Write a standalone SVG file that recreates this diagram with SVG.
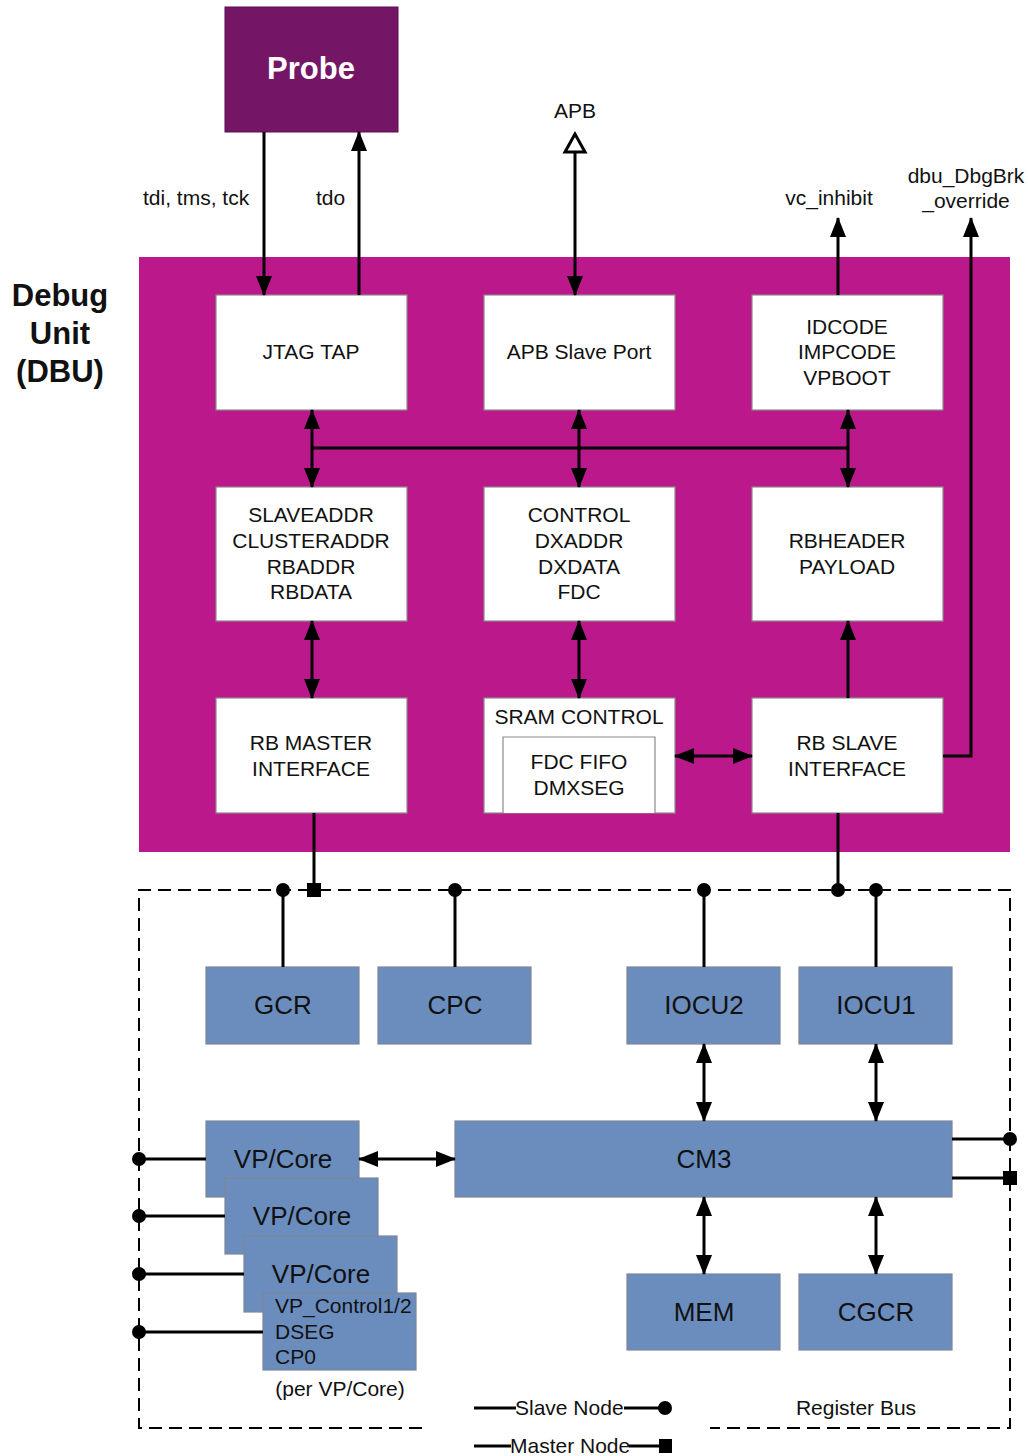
<svg xmlns="http://www.w3.org/2000/svg" width="1028" height="1456" viewBox="0 0 1028 1456">
<defs>
<marker id="ah" markerUnits="userSpaceOnUse" markerWidth="20" markerHeight="18" refX="19" refY="8" orient="auto-start-reverse" viewBox="0 0 20 16">
<path d="M0,0 L20,8 L0,16 z" fill="#000"/>
</marker>
<style>
text{font-family:"Liberation Sans",Arial,sans-serif;fill:#111}
.w{fill:#fff;stroke:#8a8a8a;stroke-width:1.2}
.b{fill:#6a8dbe;stroke:#7d8696;stroke-width:1.2}
.t{font-size:21px;text-anchor:middle}
.bt{font-size:26px;text-anchor:middle}
.l{font-size:21px}
.c{stroke:#000;stroke-width:3;fill:none}
.a{marker-end:url(#ah)}
.d{marker-start:url(#ah);marker-end:url(#ah)}
.dash{stroke:#000;stroke-width:2;fill:none;stroke-dasharray:13 7}
</style>
</defs>
<rect width="1028" height="1456" fill="#fff"/>

<g id="dbu-area">
<rect x="139" y="257" width="871" height="595" fill="#bb188c"/>
<text x="60" y="306" style="font-size:31px;font-weight:bold;text-anchor:middle">Debug</text>
<text x="60" y="344" style="font-size:31px;font-weight:bold;text-anchor:middle">Unit</text>
<text x="60" y="382" style="font-size:31px;font-weight:bold;text-anchor:middle">(DBU)</text>
</g>

<g id="probe">
<rect x="225" y="7" width="173" height="125" fill="#751566" stroke="#5a0f4f" stroke-width="1"/>
<text x="311" y="79" style="font-size:31px;font-weight:bold;text-anchor:middle;fill:#fff">Probe</text>
</g>

<g id="jtag-tap"><rect class="w" x="216" y="295" width="191" height="115"/><text class="t" x="311" y="359">JTAG TAP</text></g>
<g id="apb-slave-port"><rect class="w" x="484" y="295" width="191" height="115"/><text class="t" x="579" y="359">APB Slave Port</text></g>
<g id="idcode"><rect class="w" x="752" y="295" width="191" height="115"/><text class="t" x="847" y="334">IDCODE</text><text class="t" x="847" y="359">IMPCODE</text><text class="t" x="847" y="385">VPBOOT</text></g>

<g id="slaveaddr"><rect class="w" x="216" y="487" width="191" height="134"/><text class="t" x="311" y="522">SLAVEADDR</text><text class="t" x="311" y="548">CLUSTERADDR</text><text class="t" x="311" y="574">RBADDR</text><text class="t" x="311" y="599">RBDATA</text></g>
<g id="control"><rect class="w" x="484" y="487" width="191" height="134"/><text class="t" x="579" y="522">CONTROL</text><text class="t" x="579" y="548">DXADDR</text><text class="t" x="579" y="574">DXDATA</text><text class="t" x="579" y="599">FDC</text></g>
<g id="rbheader"><rect class="w" x="752" y="487" width="191" height="134"/><text class="t" x="847" y="548">RBHEADER</text><text class="t" x="847" y="574">PAYLOAD</text></g>

<g id="rb-master"><rect class="w" x="216" y="698" width="191" height="115"/><text class="t" x="311" y="750">RB MASTER</text><text class="t" x="311" y="776">INTERFACE</text></g>
<g id="sram-control"><rect class="w" x="484" y="698" width="191" height="115"/><text class="t" x="579" y="724">SRAM CONTROL</text>
<path d="M503,813 V737 H655 V813" fill="#fff" stroke="#8a8a8a" stroke-width="1.2"/>
<text class="t" x="579" y="769">FDC FIFO</text><text class="t" x="579" y="795">DMXSEG</text></g>
<g id="rb-slave"><rect class="w" x="752" y="698" width="191" height="115"/><text class="t" x="847" y="750">RB SLAVE</text><text class="t" x="847" y="776">INTERFACE</text></g>

<g id="gcr"><rect class="b" x="206" y="967" width="153" height="77"/><text class="bt" x="283" y="1014">GCR</text></g>
<g id="cpc"><rect class="b" x="378" y="967" width="153" height="77"/><text class="bt" x="455" y="1014">CPC</text></g>
<g id="iocu2"><rect class="b" x="627" y="967" width="153" height="77"/><text class="bt" x="704" y="1014">IOCU2</text></g>
<g id="iocu1"><rect class="b" x="799" y="967" width="153" height="77"/><text class="bt" x="876" y="1014">IOCU1</text></g>
<g id="cm3"><rect class="b" x="455" y="1121" width="497" height="76"/><text class="bt" x="704" y="1168">CM3</text></g>
<g id="mem"><rect class="b" x="627" y="1274" width="153" height="76"/><text class="bt" x="704" y="1321">MEM</text></g>
<g id="cgcr"><rect class="b" x="799" y="1274" width="153" height="76"/><text class="bt" x="876" y="1321">CGCR</text></g>

<g id="vpcore1"><rect class="b" x="206" y="1121" width="153" height="76"/><text class="bt" x="283" y="1168">VP/Core</text></g>
<g id="vpcore2"><rect class="b" x="225" y="1178" width="153" height="76"/><text class="bt" x="302" y="1225">VP/Core</text></g>
<g id="vpcore3"><rect class="b" x="244" y="1236" width="153" height="76"/><text class="bt" x="321" y="1283">VP/Core</text></g>
<g id="vp-control"><rect class="b" x="263" y="1293" width="153" height="77"/>
<text class="l" x="275" y="1313">VP_Control1/2</text><text class="l" x="275" y="1339">DSEG</text><text class="l" x="275" y="1364">CP0</text>
<text class="t" x="340" y="1396">(per VP/Core)</text></g>

<g id="connectors">
<line class="c a" x1="264" y1="132" x2="264" y2="295"/>
<line class="c a" x1="359" y1="295" x2="359" y2="132"/>
<line class="c a" x1="575" y1="153" x2="575" y2="295"/>
<polygon points="575,134 565,152 585,152" fill="#fff" stroke="#000" stroke-width="3"/>
<line class="c a" x1="838" y1="295" x2="838" y2="218"/>
<polyline class="c a" points="943,756 971,756 971,218"/>

<line class="c" x1="312" y1="448" x2="848" y2="448"/>
<line class="c d" x1="312" y1="410" x2="312" y2="487"/>
<line class="c d" x1="579" y1="410" x2="579" y2="487"/>
<line class="c d" x1="848" y1="410" x2="848" y2="487"/>

<line class="c d" x1="312" y1="621" x2="312" y2="698"/>
<line class="c d" x1="579" y1="621" x2="579" y2="698"/>
<line class="c a" x1="848" y1="698" x2="848" y2="621"/>
<line class="c d" x1="675" y1="756" x2="752" y2="756"/>

<path class="dash" d="M422,1428 H139 V890 H1010 V1428 H710"/>

<line class="c" x1="314" y1="813" x2="314" y2="890"/>
<rect x="307" y="883" width="14" height="14" fill="#000"/>
<line class="c" x1="838" y1="813" x2="838" y2="890"/>
<circle cx="838" cy="890" r="7" fill="#000"/>

<line class="c" x1="283" y1="890" x2="283" y2="967"/><circle cx="283" cy="890" r="7" fill="#000"/>
<line class="c" x1="455" y1="890" x2="455" y2="967"/><circle cx="455" cy="890" r="7" fill="#000"/>
<line class="c" x1="704" y1="890" x2="704" y2="967"/><circle cx="704" cy="890" r="7" fill="#000"/>
<line class="c" x1="876" y1="890" x2="876" y2="967"/><circle cx="876" cy="890" r="7" fill="#000"/>

<line class="c d" x1="704" y1="1044" x2="704" y2="1121"/>
<line class="c d" x1="876" y1="1044" x2="876" y2="1121"/>
<line class="c d" x1="704" y1="1197" x2="704" y2="1274"/>
<line class="c d" x1="876" y1="1197" x2="876" y2="1274"/>
<line class="c d" x1="359" y1="1159" x2="455" y2="1159"/>

<line class="c" x1="139" y1="1159" x2="206" y2="1159"/><circle cx="139" cy="1159" r="7" fill="#000"/>
<line class="c" x1="139" y1="1216" x2="225" y2="1216"/><circle cx="139" cy="1216" r="7" fill="#000"/>
<line class="c" x1="139" y1="1274" x2="244" y2="1274"/><circle cx="139" cy="1274" r="7" fill="#000"/>
<line class="c" x1="139" y1="1332" x2="263" y2="1332"/><circle cx="139" cy="1332" r="7" fill="#000"/>

<line class="c" x1="952" y1="1139" x2="1010" y2="1139"/><circle cx="1010" cy="1139" r="7" fill="#000"/>
<line class="c" x1="952" y1="1178" x2="1010" y2="1178"/><rect x="1003" y="1171" width="14" height="14" fill="#000"/>
</g>

<g id="labels">
<text class="l" x="143" y="205">tdi, tms, tck</text>
<text class="l" x="316" y="205">tdo</text>
<text class="t" x="575" y="118">APB</text>
<text class="t" x="829" y="205">vc_inhibit</text>
<text class="t" x="966" y="183">dbu_DbgBrk</text>
<text class="t" x="966" y="208">_override</text>
<text class="t" x="856" y="1415">Register Bus</text>
</g>

<g id="legend">
<line class="c" x1="474" y1="1408" x2="516" y2="1408"/>
<text class="l" x="515" y="1415">Slave Node</text>
<line class="c" x1="624" y1="1408" x2="665" y2="1408"/>
<circle cx="665" cy="1408" r="7" fill="#000"/>
<line class="c" x1="474" y1="1446" x2="511" y2="1446"/>
<text class="l" x="510" y="1453">Master Node</text>
<line class="c" x1="629" y1="1446" x2="665" y2="1446"/>
<rect x="659" y="1439" width="13" height="14" fill="#000"/>
</g>
</svg>
